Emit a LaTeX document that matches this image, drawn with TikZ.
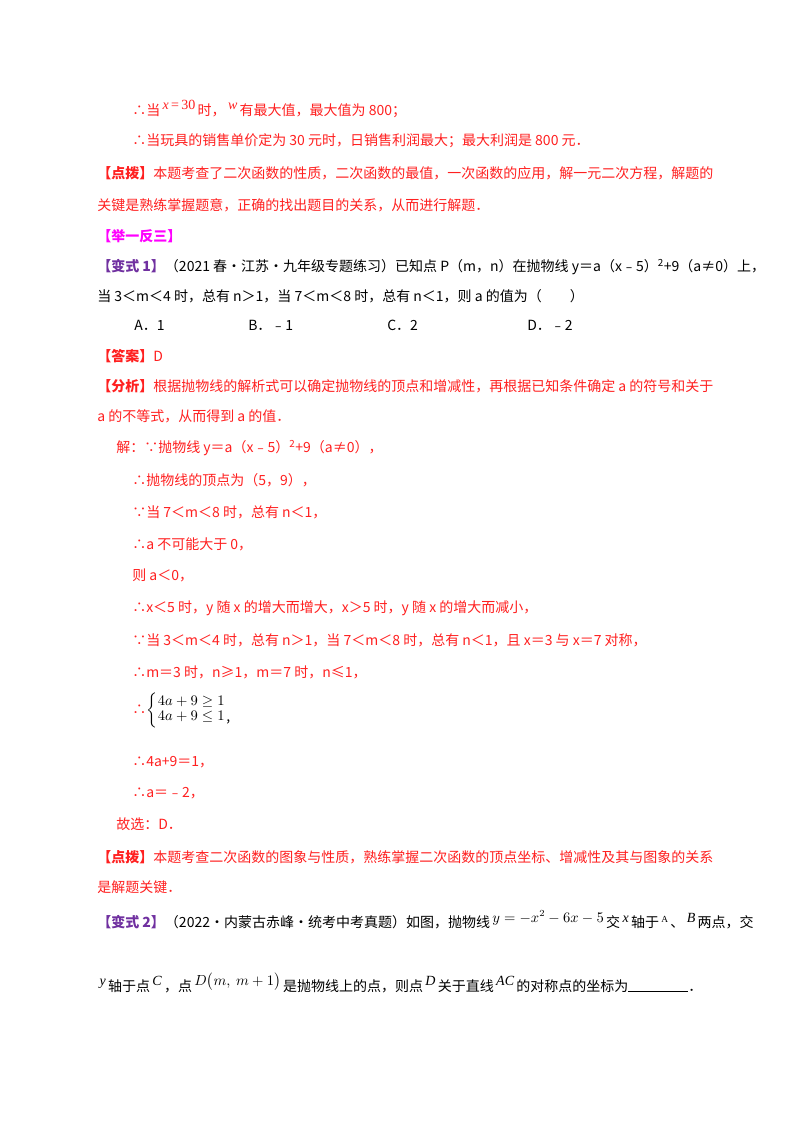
\documentclass[tikz,border=0pt]{standalone}
\usepackage{fontspec}
\usepackage{amsmath}
\setmainfont{Noto Sans CJK SC}
\newfontfamily\tms{Liberation Serif}
\definecolor{rd}{HTML}{FF2020}
\definecolor{mg}{HTML}{FF00FF}
\definecolor{pp}{HTML}{7030A0}
\newcommand\mi[1]{{\tms\itshape #1}}
\newcommand\up[1]{\,\raisebox{4pt}{#1}\,}
\tikzset{ln/.style={anchor=west,inner sep=0pt,font=\fontsize{10.5pt}{12pt}\selectfont},
 r/.style={ln,text=rd}, k/.style={ln,text=black}}
\begin{document}
\begin{tikzpicture}[x=0.75pt,y=-0.75pt]
\useasboundingbox[fill=white](0,0) rectangle (800,1132);
\node[r] (l1) at (132,109) {∴当\up{\mi{x}\,{\tms =\,30}}时，\up{\mi{w}}有最大值，最大值为 800；};
\node[r] (l2) at (132,141) {∴当玩具的销售单价定为 30 元时，日销售利润最大；最大利润是 800 元．};
\node[r] (l3) at (97,173) {\textbf{【点拨】}本题考查了二次函数的性质，二次函数的最值，一次函数的应用，解一元二次方程，解题的};
\node[r] (l4) at (97,205) {关键是熟练掌握题意，正确的找出题目的关系，从而进行解题．};
\node[k,text=mg] (l5) at (97,236) {\textbf{【举一反三】}};
\node[k] (l6) at (97,267) {\textcolor{pp}{\textbf{【变式 1】}}（2021 春·江苏·九年级专题练习）已知点 P（m，n）在抛物线 y＝a（x﹣5）\textsuperscript{2}+9（a≠0）上，};
\node[k] (l7) at (97,296) {当 3＜m＜4 时，总有 n＞1，当 7＜m＜8 时，总有 n＜1，则 a 的值为（\qquad）};
\node[k] (oA) at (134,325) {A．1};
\node[k] (oB) at (248,325) {B．﹣1};
\node[k] (oC) at (387,325) {C．2};
\node[k] (oD) at (527,325) {D．﹣2};
\node[r] (l8) at (97,356) {\textbf{【答案】}D};
\node[r] (l9) at (97,386) {\textbf{【分析】}根据抛物线的解析式可以确定抛物线的顶点和增减性，再根据已知条件确定 a 的符号和关于};
\node[r] (l10) at (97,416) {a 的不等式，从而得到 a 的值．};
\node[r] (l11) at (116,448) {解：∵抛物线 y＝a（x﹣5）\textsuperscript{2}+9（a≠0），};
\node[r] (l12) at (132,480) {∴抛物线的顶点为（5，9），};
\node[r] (l13) at (132,512) {∵当 7＜m＜8 时，总有 n＜1，};
\node[r] (l14) at (132,544) {∴a 不可能大于 0，};
\node[r] (l15) at (132,575) {则 a＜0，};
\node[r] (l16) at (132,608) {∴x＜5 时，y 随 x 的增大而增大，x＞5 时，y 随 x 的增大而减小，};
\node[r] (l17) at (132,640) {∵当 3＜m＜4 时，总有 n＞1，当 7＜m＜8 时，总有 n＜1，且 x＝3 与 x＝7 对称，};
\node[r] (l18) at (132,672) {∴m＝3 时，n≥1，m＝7 时，n≤1，};
\node[r] (l19) at (132,710) {∴};
\node[k,anchor=west] (sys) at (l19.east) {\renewcommand\arraystretch{0.95}$\left\{\begin{array}{@{}l@{}}4a+9\ge 1\\ 4a+9\le 1\end{array}\right.$\raisebox{-6pt}{,}};
\node[r] (l20) at (132,762) {∴4a+9＝1，};
\node[r] (l21) at (132,793) {∴a＝﹣2，};
\node[r] (l22) at (116,824) {故选：D．};
\node[r] (l23) at (97,857) {\textbf{【点拨】}本题考查二次函数的图象与性质，熟练掌握二次函数的顶点坐标、增减性及其与图象的关系};
\node[r] (l24) at (97,887) {是解题关键．};
\node[k] (l25) at (97,920) {\textcolor{pp}{\textbf{【变式 2】}}（2022·内蒙古赤峰·统考中考真题）如图，抛物线\up{$y=-x^2-6x-5$}交\up{\mi{x}}轴于\up{\tms\scriptsize A}、\up{\mi{B}}两点，交};
\node[k] (l26) at (97,983) {\up{\mi{y}}轴于点\up{\mi{C}}，点\up{$D\bigl(m,\ m+1\bigr)$}是抛物线上的点，则点\up{\mi{D}}关于直线\up{\mi{AC}}的对称点的坐标为\rule[-1pt]{45pt}{0.8pt}．};
\end{tikzpicture}
\end{document}
